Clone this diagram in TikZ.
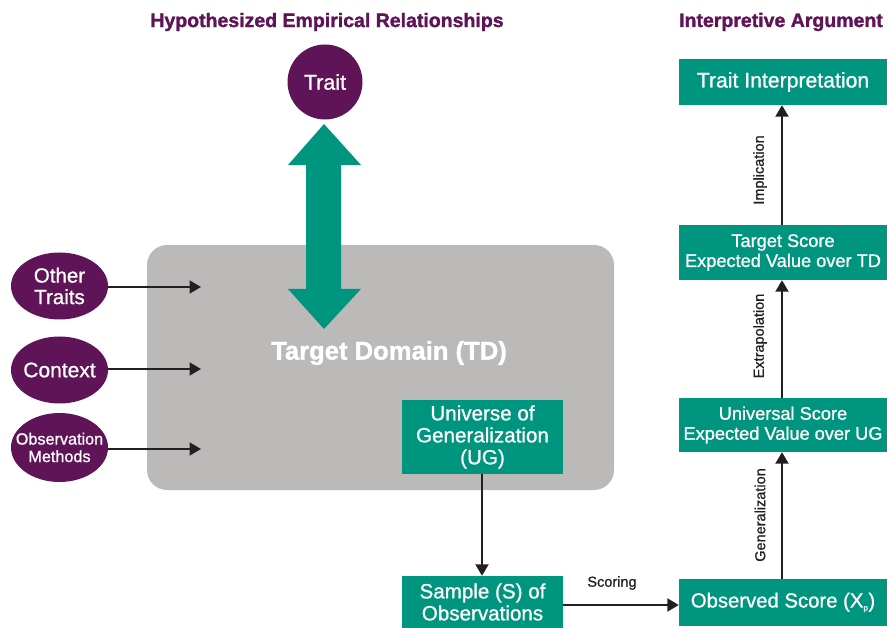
\documentclass[tikz,border=0pt]{standalone}
\usepackage{fontspec}
\setmainfont{Liberation Sans}[FakeBold=1.5]
\newfontfamily\medf{Liberation Sans}[FakeBold=0.9]
\usetikzlibrary{arrows.meta,shapes.geometric}
\definecolor{purp}{HTML}{5E1457}
\definecolor{grn}{HTML}{00957F}
\definecolor{gry}{HTML}{BBBAB9}
\definecolor{ink}{HTML}{231F20}
\tikzset{
  gbox/.style={fill=grn, text=white, inner sep=0pt, align=center, font=\medf\fontsize{18.2}{20}\selectfont},
  oval/.style={ellipse, fill=purp, inner sep=0pt, minimum width=97pt, minimum height=67pt},
  ovaltext/.style={text=white, inner sep=0pt, align=center},
  conn/.style={draw=ink, line width=2pt, -{Triangle[length=11.5pt,width=13pt]}},
  title/.style={text=purp, font=\bfseries\fontsize{19.5}{22}\selectfont},
  lab/.style={text=ink, font=\medf\fontsize{14.5}{16}\selectfont}
}
\begin{document}
\begin{tikzpicture}[x=1pt,y=-1pt]
\useasboundingbox (0,0) rectangle (887,628);
% titles
\node[title] (t1) at (327,22) {Hypothesized Empirical Relationships};
\node[title] (t2) at (781,22) {Interpretive Argument};
% gray domain
\node[fill=gry, rounded corners=20pt, minimum width=467pt, minimum height=245pt, inner sep=0pt] (td) at (380.5,367.5) {};
\node[text=white, font=\bfseries\fontsize{25.6}{28}\selectfont] (tdl) at (389,353) {Target Domain (TD)};
% trait
\node[circle, fill=purp, text=white, minimum size=75pt, inner sep=0pt, font=\medf\fontsize{21.5}{22}\selectfont] (trait) at (325,82) {Trait};
% double arrow
\fill[grn] (324,124) -- (361,165) -- (341,165) -- (341,289) -- (361,289) -- (324,329) -- (288,289) -- (306,289) -- (306,165) -- (288,165) -- cycle;
% ellipses
\node[oval] (ot) at (59.5,286) {};
\node[ovaltext, font=\medf\fontsize{20.5}{21.5}\selectfont] (otl) at (ot.center) {Other\\Traits};
\node[oval] (ctx) at (59.5,370) {};
\node[ovaltext, font=\medf\fontsize{21}{22}\selectfont] (ctxl) at (ctx.center) {Context};
\node[oval, minimum height=69pt] (om) at (59.5,447.5) {};
\node[ovaltext, font=\medf\fontsize{16.2}{17.5}\selectfont] (oml) at (om.center) {Observation\\Methods};
\coordinate (e1) at (201,287);
\coordinate (e2) at (201,369);
\coordinate (e3) at (201,449);
\draw[conn] (ot.east |- e1) -- (e1);
\draw[conn] (ctx.east |- e2) -- (e2);
\draw[conn] (om.east |- e3) -- (e3);
% UG and sample
\node[gbox, minimum width=161pt, minimum height=74pt, font=\medf\fontsize{20.6}{22}\selectfont] (ug) at (482.5,437) {Universe of\\Generalization\\(UG)};
\node[gbox, minimum width=161pt, minimum height=52pt, font=\medf\fontsize{20.6}{22}\selectfont] (smp) at (482.5,602) {Sample (S) of\\Observations};
\draw[conn] (ug.south -| 482,0) -- (smp.north -| 482,0);
% right column
\node[gbox, minimum width=208pt, minimum height=46pt, font=\medf\fontsize{21.2}{23}\selectfont] (ti) at (783,82) {Trait Interpretation};
\node[gbox, minimum width=208pt, minimum height=55pt] (ts) at (783,252.5) {Target Score\\Expected Value over TD};
\node[gbox, minimum width=208pt, minimum height=54pt] (us) at (783,425) {Universal Score\\Expected Value over UG};
\node[gbox, minimum width=208pt, minimum height=47pt, font=\medf\fontsize{20.3}{22}\selectfont] (os) at (783,602.5) {Observed Score (X\textsubscript{\fontsize{8}{8}\selectfont p})};
\draw[conn] (smp.east |- 0,605) -- (os.west |- 0,605);
\node[lab] (scl) at (612,583) {Scoring};
\draw[conn] (os.north -| 782,0) -- (us.south -| 782,0);
\draw[conn] (us.north -| 782,0) -- (ts.south -| 782,0);
\draw[conn] (ts.north -| 782,0) -- (ti.south -| 782,0);
\node[lab, rotate=90] (gl) at (760,515) {Generalization};
\node[lab, rotate=90] (el) at (760,336) {Extrapolation};
\node[lab, rotate=90] (il) at (760,170) {Implication};
\end{tikzpicture}
\end{document}
